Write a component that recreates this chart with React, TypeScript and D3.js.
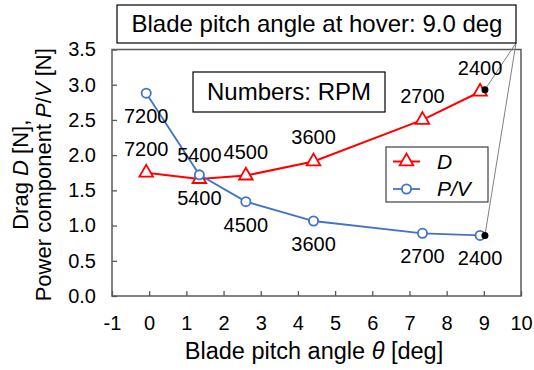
import * as d3 from 'd3'
import React, { useRef, useEffect } from 'react'

// rpm written next to each measured point
const rpm = [7200, 5400, 4500, 3600, 2700, 2400]
// blade pitch angle [deg] of each point
const pitch = [-0.08, 1.35, 2.6, 4.42, 7.35, 8.9]
// drag D [N]
const drag = [1.75, 1.66, 1.71, 1.91, 2.5, 2.9]
// power component P/V [N]
const powerV = [2.88, 1.72, 1.34, 1.065, 0.89, 0.86]
// hover point (black dots)
const hoverPitch = 9.03
const hoverValues = [2.93, 0.86]
const xTicks = d3.range(-1, 11)
const yTicks = [0, 0.5, 1, 1.5, 2, 2.5, 3, 3.5]

export default function App() {
    const svgRef = useRef(null)

    useEffect(() => {
        const w = 534
        const h = 370
        const left = 112, right = 521, top = 49.5, bottom = 296
        const font = '"Liberation Sans", Arial, sans-serif'
        const red = '#ff0000'
        const blue = '#4472c4'

        const svg = d3.select(svgRef.current)
        svg.selectAll('*').remove()
        svg.attr('width', w).attr('height', h).style('font-family', font)

        const x = d3.scaleLinear().domain([-1, 10]).range([left, right])
        const y = d3.scaleLinear().domain([0, 3.5]).range([bottom, top])

        // axes, ticks point inward
        const gx = svg.append('g').attr('transform', `translate(0,${bottom})`)
            .call(d3.axisBottom(x).tickValues(xTicks).tickFormat(d => String(d))
                .tickSize(-5).tickSizeOuter(0).tickPadding(20))
        const gy = svg.append('g').attr('transform', `translate(${left},0)`)
            .call(d3.axisLeft(y).tickValues(yTicks).tickFormat(d3.format('.1f'))
                .tickSize(-5).tickSizeOuter(0).tickPadding(16))
        for (const g of [gx, gy]) {
            g.select('.domain').remove()
            g.selectAll('line').attr('stroke', '#595959').attr('stroke-width', 1.3)
            g.selectAll('text').attr('fill', '#000').style('font-size', '20px')
                .style('font-family', font)
        }
        gx.selectAll('text').attr('dy', '0.71em')

        // plot frame
        svg.append('rect')
            .attr('x', left).attr('y', top)
            .attr('width', right - left).attr('height', bottom - top)
            .attr('fill', 'none').attr('stroke', '#595959').attr('stroke-width', 1.5)

        // axis titles
        svg.append('text')
            .attr('x', 314).attr('y', 359)
            .attr('text-anchor', 'middle').style('font-size', '23.5px')
            .html('Blade pitch angle <tspan font-style="italic">θ</tspan> [deg]')

        const yt = svg.append('text')
            .attr('transform', `translate(0,${(top + bottom) / 2 + 2}) rotate(-90)`)
            .attr('text-anchor', 'middle').style('font-size', '22px')
        yt.append('tspan').attr('x', 0).attr('y', 28)
            .html('Drag <tspan font-style="italic">D</tspan> [N],')
        yt.append('tspan').attr('x', 0).attr('y', 51)
            .html('Power component <tspan font-style="italic">P</tspan>/<tspan font-style="italic">V</tspan> [N]')

        // callout box with connectors to hover points
        const corner = [516, 43]
        svg.selectAll('line.conn')
            .data(hoverValues)
            .join('line')
            .attr('class', 'conn')
            .attr('x1', x(hoverPitch)).attr('y1', d => y(d))
            .attr('x2', corner[0]).attr('y2', corner[1])
            .attr('stroke', '#808080').attr('stroke-width', 1)

        svg.append('rect')
            .attr('x', 117).attr('y', 5).attr('width', 399).attr('height', 38)
            .attr('fill', '#fff').attr('stroke', '#000').attr('stroke-width', 1.2)
        svg.append('text')
            .attr('x', 317).attr('y', 24).attr('dy', '0.35em')
            .attr('text-anchor', 'middle').style('font-size', '24px')
            .text('Blade pitch angle at hover: 9.0 deg')

        svg.append('rect')
            .attr('x', 193).attr('y', 72).attr('width', 192).attr('height', 40)
            .attr('fill', '#fff').attr('stroke', '#000').attr('stroke-width', 1.2)
        svg.append('text')
            .attr('x', 289).attr('y', 92).attr('dy', '0.35em')
            .attr('text-anchor', 'middle').style('font-size', '24px')
            .text('Numbers: RPM')

        // series
        const line = d3.line<number>().x((d, i) => x(pitch[i])).y(d => y(d))
        svg.append('path').datum(drag).attr('d', line)
            .attr('fill', 'none').attr('stroke', red).attr('stroke-width', 2)
        svg.append('path').datum(powerV).attr('d', line)
            .attr('fill', 'none').attr('stroke', blue).attr('stroke-width', 1.8)

        const tri = d3.symbol(d3.symbolTriangle, 80)
        svg.selectAll('path.tri')
            .data(drag)
            .join('path')
            .attr('class', 'tri')
            .attr('d', tri)
            .attr('transform', (d, i) => `translate(${x(pitch[i])},${y(d)})`)
            .attr('fill', '#fff').attr('stroke', red).attr('stroke-width', 1.8)

        svg.selectAll('circle.pv')
            .data(powerV)
            .join('circle')
            .attr('class', 'pv')
            .attr('cx', (d, i) => x(pitch[i])).attr('cy', d => y(d)).attr('r', 4.6)
            .attr('fill', '#fff').attr('stroke', blue).attr('stroke-width', 1.8)

        svg.selectAll('circle.hover')
            .data(hoverValues)
            .join('circle')
            .attr('class', 'hover')
            .attr('cx', x(hoverPitch)).attr('cy', d => y(d)).attr('r', 3.5)
            .attr('fill', '#000')

        // rpm labels: above drag points, below P/V points
        svg.selectAll('text.lblD')
            .data(drag)
            .join('text')
            .attr('class', 'lblD')
            .attr('x', (d, i) => x(pitch[i])).attr('y', d => y(d) - 24).attr('dy', '0.35em')
            .attr('text-anchor', 'middle').style('font-size', '20px')
            .text((d, i) => rpm[i])
        svg.selectAll('text.lblPV')
            .data(powerV)
            .join('text')
            .attr('class', 'lblPV')
            .attr('x', (d, i) => x(pitch[i])).attr('y', d => y(d) + 23).attr('dy', '0.35em')
            .attr('text-anchor', 'middle').style('font-size', '20px')
            .text((d, i) => rpm[i])

        // legend
        const lg = svg.append('g').attr('transform', 'translate(386,147)')
        lg.append('rect').attr('width', 102).attr('height', 55)
            .attr('fill', '#fff').attr('stroke', '#404040').attr('stroke-width', 1.2)
        lg.append('line').attr('x1', 7).attr('x2', 34).attr('y1', 14.5).attr('y2', 14.5)
            .attr('stroke', red).attr('stroke-width', 2)
        lg.append('path').attr('d', tri).attr('transform', 'translate(20.5,14.5)')
            .attr('fill', '#fff').attr('stroke', red).attr('stroke-width', 1.8)
        lg.append('line').attr('x1', 7).attr('x2', 34).attr('y1', 42).attr('y2', 42)
            .attr('stroke', blue).attr('stroke-width', 1.8)
        lg.append('circle').attr('cx', 20.5).attr('cy', 42).attr('r', 4.6)
            .attr('fill', '#fff').attr('stroke', blue).attr('stroke-width', 1.8)
        lg.append('text').attr('x', 51).attr('y', 14.5).attr('dy', '0.35em')
            .style('font-size', '21px').style('font-style', 'italic').text('D')
        lg.append('text').attr('x', 51).attr('y', 42).attr('dy', '0.35em')
            .style('font-size', '21px').style('font-style', 'italic').text('P/V')
    }, [])

    return (
        <div style={{ position: 'absolute', left: 0, top: 0 }}>
            <svg ref={svgRef}></svg>
        </div>
    )
}
